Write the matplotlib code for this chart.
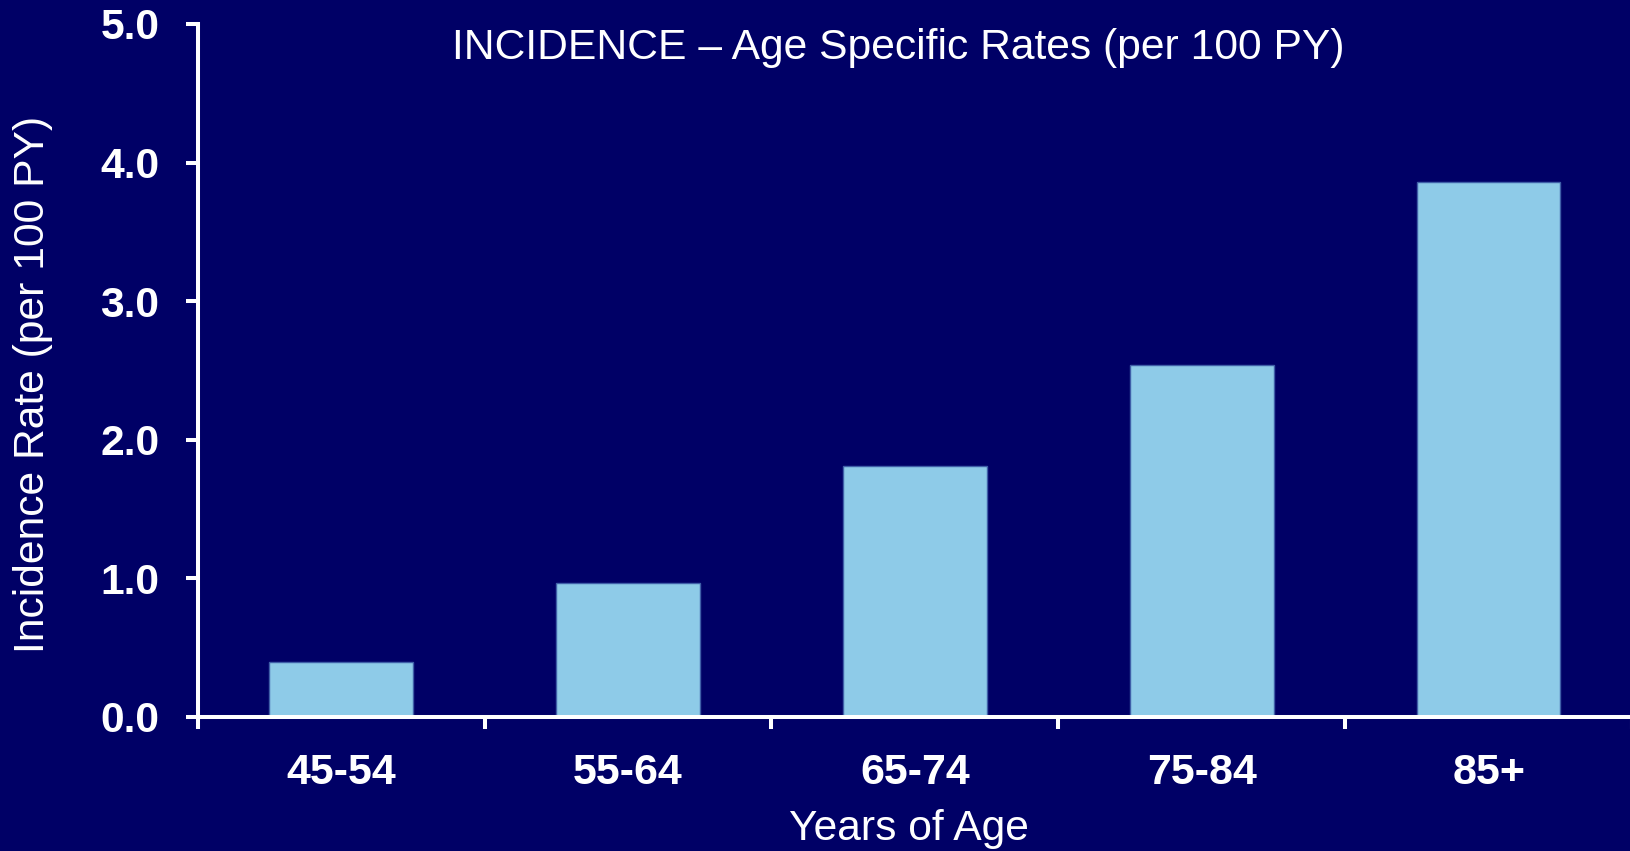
import matplotlib
matplotlib.use("Agg")
import matplotlib.pyplot as plt
import numpy as np

# Data
age_groups = ["45-54", "55-64", "65-74", "75-84", "85+"]
incidence = [0.40, 0.97, 1.81, 2.54, 3.86]
y_ticks = [0.0, 1.0, 2.0, 3.0, 4.0, 5.0]

BG = "#000066"
BAR = "#8ECBE8"
EDGE = "#3F5FA8"
WHITE = "white"

plt.rcParams["font.family"] = ["Liberation Sans", "DejaVu Sans"]

fig = plt.figure(figsize=(16.31, 8.51), dpi=100, facecolor=BG)
ax = fig.add_axes([0.1212, 0.1575, 0.8795, 0.8143], facecolor=BG)

x = np.arange(len(age_groups))
ax.bar(x, incidence, width=0.5, color=BAR, edgecolor=EDGE, linewidth=1.0, zorder=2)

ax.set_xlim(-0.5, len(age_groups) - 0.5)
ax.set_ylim(0, 5)

ax.set_yticks(y_ticks)
ax.set_yticklabels([f"{v:.1f}" for v in y_ticks])
ax.set_xticks(np.arange(len(age_groups) + 1) - 0.5)
ax.set_xticklabels([])
ax.set_xticks(x, minor=True)
ax.set_xticklabels(age_groups, minor=True)

for side in ("top", "right"):
    ax.spines[side].set_visible(False)
for side in ("left", "bottom"):
    ax.spines[side].set_color(WHITE)
    ax.spines[side].set_linewidth(2.9)
    ax.spines[side].set_zorder(3)

ax.tick_params(axis="y", which="major", colors=WHITE, length=8.6, width=2.9,
               pad=19, labelsize=30.7)
ax.tick_params(axis="x", which="major", colors=WHITE, length=8.6, width=2.9,
               direction="out")
ax.tick_params(axis="x", which="minor", length=0, pad=26, labelsize=31,
               labelcolor=WHITE)
for lbl in ax.get_yticklabels() + ax.get_xticklabels(minor=True):
    lbl.set_fontweight("bold")

fig.text(0.551, 0.944, "INCIDENCE \u2013 Age Specific Rates (per 100 PY)",
         color=WHITE, fontsize=30.7, ha="center", va="center")
fig.text(0.020, 0.548, "Incidence Rate (per 100 PY)", color=WHITE, fontsize=30.7,
         rotation=90, ha="center", va="center")
fig.text(0.557, 0.026, "Years of Age", color=WHITE, fontsize=30.7,
         ha="center", va="center")

fig.savefig("out.png", dpi=100, facecolor=BG)
